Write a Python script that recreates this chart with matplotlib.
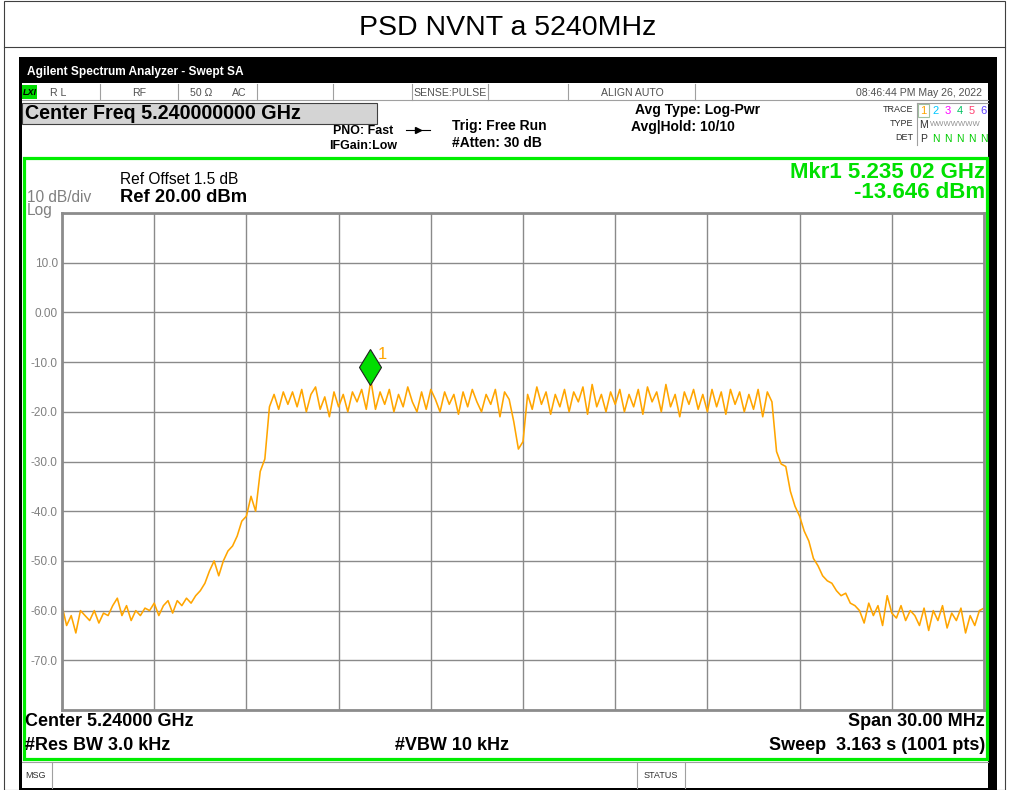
import numpy as np
import matplotlib.pyplot as plt
from matplotlib.patches import Rectangle
from matplotlib import transforms

plt.rcParams['font.family'] = ['Liberation Sans', 'DejaVu Sans']

# sweep settings
span_mhz = 30.0
ref_dbm = 20.0
db_per_div = 10
n_div = 10

# trace 1 (dBm), split by region, left to right
floor_left = [-59, -63, -61, -64.5, -60, -61, -62, -60, -62.5, -60.5,
              -61, -59, -57.5, -61, -59, -62, -60, -61, -59.5, -60,
              -58.5, -61, -59, -58, -60.5, -58, -59, -57.5, -58.5, -57]
rise_left = [-56, -54.5, -52, -50, -53, -50, -48, -47, -45, -42,
             -41, -37, -40, -32, -29.5]
channel = [-19, -16.5, -19.5, -16, -18.5, -16, -19, -15.5, -20, -16.5,
           -15, -19.5, -17, -21, -16, -19, -16.5, -20, -16, -18,
           -15.5, -19.5, -13.646, -19.5, -16, -18.5, -15.5, -20, -16.5, -19,
           -15, -18, -20, -16, -19.5, -15.5, -17.5, -20, -16, -18.5,
           -16.5, -20.5, -16, -19, -15.5, -18, -20, -16.5, -18.5, -15.5,
           -21, -16, -17.5, -22, -27.5, -26, -16.5, -19.5, -15, -18.5,
           -16, -20.5, -16.5, -19, -15.5, -20, -16, -18, -15, -20.5,
           -14.5, -19, -16.5, -20, -16, -18.5, -15.5, -20, -16.5, -19,
           -15.5, -20.5, -15, -18, -16, -20, -14.5, -19, -16.5, -21,
           -16, -18.5, -15.5, -19.5, -16.5, -20, -15.5, -19, -16, -20.5,
           -15.5, -18.5, -16, -20, -16.5, -19.5, -15.5, -21, -16, -18]
fall_right = [-28, -30.5, -31, -36, -39, -41, -44, -46, -49.5, -51,
              -53, -54, -54.5, -56, -57, -56.5, -58.5, -59]
floor_right = [-60, -62.5, -58.5, -61, -59, -63, -57, -60.5, -61.5, -59,
               -62, -60, -61, -63, -59.5, -64, -60, -62, -59, -63.5,
               -60.5, -62, -59.5, -64.5, -61, -63, -60, -59.5]

trace = np.array(floor_left + rise_left + channel + fall_right + floor_right)
freq = np.linspace(-span_mhz / 2, span_mhz / 2, len(trace))

marker_mhz = -4.98
marker_dbm = -13.646

ytick_text = ['', '-70.0', '-60.0', '-50.0', '-40.0', '-30.0', '-20.0',
              '-10.0', '0.00', '10.0', '']

fig = plt.figure(figsize=(10.1, 7.9), dpi=100)

# background canvas in pixel units (origin top-left)
bg = fig.add_axes([0, 0, 1, 1])
bg.axis('off')

# outer cell with caption
bg.add_patch(Rectangle((4, 0.5), 1001, 789, fc='white', ec='#404040', lw=0.8))
bg.plot([4, 1005], [47, 47], color='#404040', lw=0.8)
bg.text(508, 28, 'PSD NVNT a 5240MHz', fontsize=20.5, ha='center', va='center')

# analyzer window
bg.add_patch(Rectangle((19, 57), 978, 733, fc='black', ec='none'))
bg.add_patch(Rectangle((22, 83), 966, 705, fc='white', ec='none'))
grad = np.array([[0.55], [0.35], [0.2], [0.12], [0.1], [0.12], [0.18]])
bar_cmap = plt.matplotlib.colors.LinearSegmentedColormap.from_list(
    'bar', ['#0040c8', '#0a5ae6', '#4a90f5'])
bg.imshow(grad, cmap=bar_cmap, vmin=0, vmax=0.6, extent=[22, 990, 83, 60],
          aspect='auto', interpolation='bilinear')
bg.text(27, 72, 'Agilent Spectrum Analyzer - Swept SA', color='white',
        fontsize=8.6, fontweight='bold', va='center')

# status row
bg.plot([22, 988], [100, 100], color='#a0a0a0', lw=0.8)
for sx in [100, 178, 257, 333, 412, 488, 568, 695]:
    bg.plot([sx, sx], [84, 100], color='#a0a0a0', lw=0.8)
bg.add_patch(Rectangle((22, 85), 15, 14, fc='#00dd00', ec='none'))
bg.text(29.5, 92.5, 'LXI', fontsize=6.5, fontweight='bold', style='italic',
        ha='center', va='center')
status = [(50, 'R L', 'left'), (139, 'RF', 'center'), (190, '50 Ω', 'left'),
          (232, 'AC', 'left'), (450, 'SENSE:PULSE', 'center'),
          (632, 'ALIGN AUTO', 'center'), (982, '08:46:44 PM May 26, 2022', 'right')]
for sx, s, ha in status:
    bg.text(sx, 92.5, s, fontsize=7.6, color='#505050', ha=ha, va='center')

# settings header
bg.add_patch(Rectangle((22, 103), 355, 21, fc='#d4d4d4', ec='#404040', lw=0.8))
bg.text(25, 113.5, 'Center Freq 5.240000000 GHz', fontsize=14.2,
        fontweight='bold', va='center')
bg.text(363, 131, 'PNO: Fast', fontsize=8.9, fontweight='bold', ha='center', va='center')
bg.text(363, 146, 'IFGain:Low', fontsize=8.9, fontweight='bold', ha='center', va='center')
bg.plot([406, 430], [130, 130], color='black', lw=0.8)
bg.plot([418], [130], marker='>', color='black', ms=4)
bg.text(452, 126, 'Trig: Free Run', fontsize=10, fontweight='bold', va='center')
bg.text(452, 143, '#Atten: 30 dB', fontsize=10, fontweight='bold', va='center')
bg.text(635, 110, 'Avg Type: Log-Pwr', fontsize=10, fontweight='bold', va='center')
bg.text(631, 127, 'Avg|Hold: 10/10', fontsize=10, fontweight='bold', va='center')

# trace table
for ty, s in [(110, 'TRACE'), (124, 'TYPE'), (138, 'DET')]:
    bg.text(913, ty, s, fontsize=6.5, color='#303030', ha='right', va='center')
bg.plot([917, 917], [103, 145], color='#a0a0a0', lw=0.8)
bg.plot([917, 988], [103, 103], color='#a0a0a0', lw=0.8)
bg.add_patch(Rectangle((918, 104), 11, 13, fc='none', ec='#a0c0a0', lw=0.8))
digit_colors = ['#ffa500', '#00c8ff', '#ff00ff', '#00c060', '#ff4070', '#6040ff']
for k, c in enumerate(digit_colors):
    bg.text(923.5 + 12 * k, 111, str(k + 1), fontsize=8, color=c, ha='center', va='center')
bg.text(923.5, 125, 'M', fontsize=7.5, color='#303030', ha='center', va='center')
bg.text(930, 125, 'WWWWWWW', fontsize=5.5, color='#909090', va='center')
bg.text(923.5, 139, 'P', fontsize=7.5, color='#303030', ha='center', va='center')
for k in range(1, 6):
    bg.text(923.5 + 12 * k, 139, 'N', fontsize=7.5, color='#00cc00', ha='center', va='center')

# display frame
bg.add_patch(Rectangle((23.5, 158), 963, 601, fc='white', ec='#00ee00', lw=2.3))
bg.text(120, 180, 'Ref Offset 1.5 dB', fontsize=11.2, va='center')
bg.text(120, 197, 'Ref 20.00 dBm', fontsize=13.2, fontweight='bold', va='center')
bg.text(27, 198, '10 dB/div', fontsize=11.2, color='#808080', va='center')
bg.text(27, 211, 'Log', fontsize=11.2, color='#808080', va='center')
bg.text(985, 172, 'Mkr1 5.235 02 GHz', fontsize=16, fontweight='bold',
        color='#00e000', ha='right', va='center')
bg.text(985, 192, f'{marker_dbm:.3f} dBm', fontsize=16, fontweight='bold',
        color='#00e000', ha='right', va='center')
bg.text(25, 722, 'Center 5.24000 GHz', fontsize=13, fontweight='bold', va='center')
bg.text(25, 745, '#Res BW 3.0 kHz', fontsize=13, fontweight='bold', va='center')
bg.text(395, 745, '#VBW 10 kHz', fontsize=13, fontweight='bold', va='center')
bg.text(985, 722, 'Span 30.00 MHz', fontsize=13, fontweight='bold', ha='right', va='center')
bg.text(985, 745, 'Sweep  3.163 s (1001 pts)', fontsize=13, fontweight='bold',
        ha='right', va='center')

# message bar
bg.plot([22, 988], [762, 762], color='#a0a0a0', lw=0.8)
for sx in [52, 637, 685]:
    bg.plot([sx, sx], [762, 788], color='#a0a0a0', lw=0.8)
bg.text(25, 775, 'MSG', fontsize=6.5, color='#303030', va='center')
bg.text(661, 775, 'STATUS', fontsize=6.5, color='#303030', ha='center', va='center')

bg.set_xlim(0, 1010)
bg.set_ylim(790, 0)

# spectrum graticule
ax = fig.add_axes([62 / 1010, 1 - 710 / 790, 922 / 1010, 497 / 790])
ax.set_xlim(-span_mhz / 2, span_mhz / 2)
bottom = ref_dbm - db_per_div * n_div
ax.set_ylim(bottom, ref_dbm)
ax.set_xticks(np.linspace(-span_mhz / 2, span_mhz / 2, n_div + 1))
ax.set_xticklabels([])
ax.set_yticks(np.arange(bottom, ref_dbm + 1, db_per_div))
ax.set_yticklabels(ytick_text, color='#808080', fontsize=8.5)
ax.tick_params(length=0, pad=3)
ax.grid(color='#8a8a8a', lw=1.0)
for sp in ax.spines.values():
    sp.set_color('#8c8c8c')
    sp.set_linewidth(2)

ax.plot(freq, trace, color='#ffa500', lw=1.15)

# marker 1
up = transforms.offset_copy(ax.transData, fig=fig, y=13, units='dots')
ax.plot(marker_mhz, marker_dbm, marker='d', ms=18.7, mfc='#00dd00',
        mec='#202020', mew=0.8, transform=up, clip_on=False)
tag = transforms.offset_copy(ax.transData, fig=fig, x=12, y=26, units='dots')
ax.text(marker_mhz, marker_dbm, '1', color='#ffa500', fontsize=12,
        ha='center', va='center', transform=tag)

fig.savefig('out.png', dpi=100)
